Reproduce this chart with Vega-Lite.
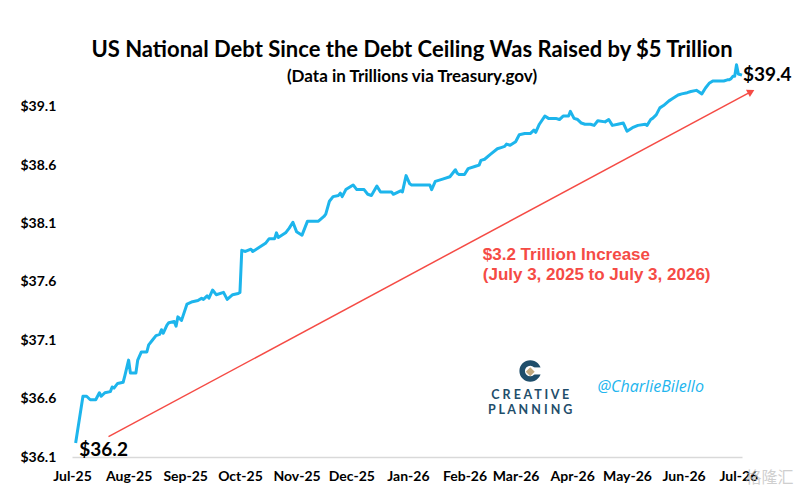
{
  "$schema": "https://vega.github.io/schema/vega-lite/v6.json",
  "width": 670,
  "height": 397,
  "autosize": {"type": "none"},
  "padding": {"left": 72, "top": 60, "right": 56, "bottom": 42},
  "background": "white",
  "config": {"view": {"stroke": null}, "font": "Lato"},
  "title": {
    "text": "US National Debt Since the Debt Ceiling Was Raised by $5 Trillion",
    "subtitle": "(Data in Trillions via Treasury.gov)",
    "anchor": "middle",
    "font": "Lato",
    "fontSize": 22,
    "fontWeight": "bold",
    "color": "black",
    "subtitleFont": "Lato",
    "subtitleFontSize": 17,
    "subtitleFontWeight": "bold",
    "subtitleColor": "black",
    "subtitlePadding": 7,
    "offset": -26,
    "dx": 5
  },
  "encoding": {
    "x": {
      "field": "date",
      "type": "temporal",
      "title": null,
      "scale": {
        "type": "utc",
        "domain": [
          {"year": 2025, "month": 7, "date": 1, "utc": true},
          {"year": 2026, "month": 7, "date": 3, "utc": true}
        ]
      },
      "axis": {
        "values": [
          {"year": 2025, "month": 7, "date": 1, "utc": true},
          {"year": 2025, "month": 8, "date": 1, "utc": true},
          {"year": 2025, "month": 9, "date": 1, "utc": true},
          {"year": 2025, "month": 10, "date": 1, "utc": true},
          {"year": 2025, "month": 11, "date": 1, "utc": true},
          {"year": 2025, "month": 12, "date": 1, "utc": true},
          {"year": 2026, "month": 1, "date": 1, "utc": true},
          {"year": 2026, "month": 2, "date": 1, "utc": true},
          {"year": 2026, "month": 3, "date": 1, "utc": true},
          {"year": 2026, "month": 4, "date": 1, "utc": true},
          {"year": 2026, "month": 5, "date": 1, "utc": true},
          {"year": 2026, "month": 6, "date": 1, "utc": true},
          {"year": 2026, "month": 7, "date": 1, "utc": true}
        ],
        "labelExpr": "utcFormat(datum.value, '%b-%y')",
        "labelFlush": false,
        "labelOverlap": false,
        "grid": false,
        "ticks": false,
        "domainColor": "#d9d9d9",
        "domainWidth": 1.5,
        "labelFont": "Lato",
        "labelFontSize": 14,
        "labelFontWeight": "bold",
        "labelColor": "black",
        "labelPadding": 12
      }
    },
    "y": {
      "field": "value",
      "type": "quantitative",
      "title": null,
      "scale": {"domain": [36.1, 39.5], "nice": false, "zero": false},
      "axis": {
        "values": [36.1, 36.6, 37.1, 37.6, 38.1, 38.6, 39.1],
        "labelExpr": "'$' + format(datum.value, '.1f')",
        "grid": false,
        "ticks": false,
        "domain": false,
        "labelAlign": "left",
        "labelPadding": 52,
        "labelFont": "Lato",
        "labelFontSize": 14,
        "labelFontWeight": "bold",
        "labelColor": "black"
      }
    }
  },
  "layer": [
    {
      "data": {"values": [
        {"date": "2025-07-03", "value": 36.22},
        {"date": "2025-07-07", "value": 36.62},
        {"date": "2025-07-09", "value": 36.62},
        {"date": "2025-07-11", "value": 36.59},
        {"date": "2025-07-14", "value": 36.59},
        {"date": "2025-07-16", "value": 36.65},
        {"date": "2025-07-17", "value": 36.62},
        {"date": "2025-07-19", "value": 36.65},
        {"date": "2025-07-22", "value": 36.66},
        {"date": "2025-07-23", "value": 36.70},
        {"date": "2025-07-24", "value": 36.69},
        {"date": "2025-07-26", "value": 36.73},
        {"date": "2025-07-29", "value": 36.74},
        {"date": "2025-07-30", "value": 36.80},
        {"date": "2025-08-01", "value": 36.93},
        {"date": "2025-08-02", "value": 36.82},
        {"date": "2025-08-05", "value": 36.82},
        {"date": "2025-08-06", "value": 36.93},
        {"date": "2025-08-08", "value": 37.00},
        {"date": "2025-08-11", "value": 37.00},
        {"date": "2025-08-12", "value": 37.06},
        {"date": "2025-08-14", "value": 37.10},
        {"date": "2025-08-16", "value": 37.14},
        {"date": "2025-08-18", "value": 37.15},
        {"date": "2025-08-19", "value": 37.19},
        {"date": "2025-08-20", "value": 37.16},
        {"date": "2025-08-22", "value": 37.23},
        {"date": "2025-08-23", "value": 37.25},
        {"date": "2025-08-26", "value": 37.26},
        {"date": "2025-08-27", "value": 37.22},
        {"date": "2025-08-28", "value": 37.30},
        {"date": "2025-08-30", "value": 37.27},
        {"date": "2025-09-02", "value": 37.41},
        {"date": "2025-09-05", "value": 37.43},
        {"date": "2025-09-08", "value": 37.44},
        {"date": "2025-09-10", "value": 37.46},
        {"date": "2025-09-11", "value": 37.45},
        {"date": "2025-09-13", "value": 37.48},
        {"date": "2025-09-14", "value": 37.46},
        {"date": "2025-09-16", "value": 37.53},
        {"date": "2025-09-18", "value": 37.49},
        {"date": "2025-09-22", "value": 37.51},
        {"date": "2025-09-24", "value": 37.45},
        {"date": "2025-09-27", "value": 37.49},
        {"date": "2025-09-30", "value": 37.50},
        {"date": "2025-10-01", "value": 37.51},
        {"date": "2025-10-02", "value": 37.87},
        {"date": "2025-10-04", "value": 37.86},
        {"date": "2025-10-07", "value": 37.88},
        {"date": "2025-10-08", "value": 37.86},
        {"date": "2025-10-11", "value": 37.89},
        {"date": "2025-10-15", "value": 37.93},
        {"date": "2025-10-17", "value": 37.97},
        {"date": "2025-10-20", "value": 37.97},
        {"date": "2025-10-21", "value": 38.02},
        {"date": "2025-10-22", "value": 37.98},
        {"date": "2025-10-26", "value": 38.02},
        {"date": "2025-10-28", "value": 38.06},
        {"date": "2025-10-30", "value": 38.11},
        {"date": "2025-11-01", "value": 38.03},
        {"date": "2025-11-04", "value": 38.00},
        {"date": "2025-11-07", "value": 38.12},
        {"date": "2025-11-10", "value": 38.12},
        {"date": "2025-11-13", "value": 38.12},
        {"date": "2025-11-16", "value": 38.16},
        {"date": "2025-11-17", "value": 38.18},
        {"date": "2025-11-19", "value": 38.29},
        {"date": "2025-11-21", "value": 38.33},
        {"date": "2025-11-24", "value": 38.34},
        {"date": "2025-11-25", "value": 38.36},
        {"date": "2025-11-26", "value": 38.33},
        {"date": "2025-11-28", "value": 38.39},
        {"date": "2025-12-02", "value": 38.43},
        {"date": "2025-12-04", "value": 38.39},
        {"date": "2025-12-08", "value": 38.39},
        {"date": "2025-12-10", "value": 38.35},
        {"date": "2025-12-12", "value": 38.34},
        {"date": "2025-12-15", "value": 38.42},
        {"date": "2025-12-17", "value": 38.37},
        {"date": "2025-12-20", "value": 38.37},
        {"date": "2025-12-23", "value": 38.37},
        {"date": "2025-12-24", "value": 38.35},
        {"date": "2025-12-28", "value": 38.38},
        {"date": "2025-12-29", "value": 38.37},
        {"date": "2025-12-31", "value": 38.51},
        {"date": "2026-01-02", "value": 38.44},
        {"date": "2026-01-03", "value": 38.43},
        {"date": "2026-01-08", "value": 38.43},
        {"date": "2026-01-13", "value": 38.43},
        {"date": "2026-01-14", "value": 38.39},
        {"date": "2026-01-16", "value": 38.46},
        {"date": "2026-01-20", "value": 38.48},
        {"date": "2026-01-24", "value": 38.50},
        {"date": "2026-01-27", "value": 38.56},
        {"date": "2026-01-28", "value": 38.53},
        {"date": "2026-01-29", "value": 38.52},
        {"date": "2026-02-01", "value": 38.52},
        {"date": "2026-02-03", "value": 38.57},
        {"date": "2026-02-07", "value": 38.59},
        {"date": "2026-02-09", "value": 38.60},
        {"date": "2026-02-10", "value": 38.64},
        {"date": "2026-02-12", "value": 38.65},
        {"date": "2026-02-15", "value": 38.69},
        {"date": "2026-02-19", "value": 38.74},
        {"date": "2026-02-21", "value": 38.75},
        {"date": "2026-02-23", "value": 38.76},
        {"date": "2026-02-24", "value": 38.78},
        {"date": "2026-02-26", "value": 38.77},
        {"date": "2026-03-01", "value": 38.80},
        {"date": "2026-03-03", "value": 38.86},
        {"date": "2026-03-06", "value": 38.87},
        {"date": "2026-03-09", "value": 38.87},
        {"date": "2026-03-11", "value": 38.90},
        {"date": "2026-03-12", "value": 38.88},
        {"date": "2026-03-14", "value": 38.95},
        {"date": "2026-03-17", "value": 39.02},
        {"date": "2026-03-19", "value": 39.00},
        {"date": "2026-03-23", "value": 39.00},
        {"date": "2026-03-25", "value": 38.99},
        {"date": "2026-03-27", "value": 39.02},
        {"date": "2026-03-30", "value": 39.02},
        {"date": "2026-03-31", "value": 39.06},
        {"date": "2026-04-02", "value": 39.00},
        {"date": "2026-04-04", "value": 38.99},
        {"date": "2026-04-06", "value": 38.96},
        {"date": "2026-04-08", "value": 38.95},
        {"date": "2026-04-11", "value": 38.95},
        {"date": "2026-04-13", "value": 38.94},
        {"date": "2026-04-15", "value": 38.98},
        {"date": "2026-04-19", "value": 38.97},
        {"date": "2026-04-21", "value": 38.99},
        {"date": "2026-04-23", "value": 38.94},
        {"date": "2026-04-26", "value": 38.95},
        {"date": "2026-04-29", "value": 38.96},
        {"date": "2026-05-01", "value": 38.89},
        {"date": "2026-05-04", "value": 38.92},
        {"date": "2026-05-07", "value": 38.94},
        {"date": "2026-05-11", "value": 38.95},
        {"date": "2026-05-12", "value": 38.94},
        {"date": "2026-05-14", "value": 38.99},
        {"date": "2026-05-15", "value": 39.00},
        {"date": "2026-05-17", "value": 39.03},
        {"date": "2026-05-19", "value": 39.09},
        {"date": "2026-05-21", "value": 39.11},
        {"date": "2026-05-24", "value": 39.15},
        {"date": "2026-05-26", "value": 39.17},
        {"date": "2026-05-29", "value": 39.20},
        {"date": "2026-05-31", "value": 39.21},
        {"date": "2026-06-03", "value": 39.22},
        {"date": "2026-06-05", "value": 39.23},
        {"date": "2026-06-08", "value": 39.24},
        {"date": "2026-06-11", "value": 39.21},
        {"date": "2026-06-13", "value": 39.26},
        {"date": "2026-06-15", "value": 39.30},
        {"date": "2026-06-17", "value": 39.32},
        {"date": "2026-06-20", "value": 39.32},
        {"date": "2026-06-23", "value": 39.32},
        {"date": "2026-06-25", "value": 39.33},
        {"date": "2026-06-26", "value": 39.33},
        {"date": "2026-06-27", "value": 39.34},
        {"date": "2026-06-28", "value": 39.36},
        {"date": "2026-06-29", "value": 39.36},
        {"date": "2026-06-30", "value": 39.46},
        {"date": "2026-07-01", "value": 39.38},
        {"date": "2026-07-03", "value": 39.37}
      ]},
      "mark": {"type": "line", "color": "#1db5ec", "strokeWidth": 3, "strokeJoin": "round"}
    },
    {
      "data": {"values": [
        {"date": "2025-07-21", "value": 36.274, "date2": "2026-07-07", "value2": 39.221}
      ]},
      "mark": {"type": "rule", "color": "#f54b45", "strokeWidth": 1.5},
      "encoding": {
        "x2": {"field": "date2"},
        "y2": {"field": "value2"}
      }
    },
    {
      "data": {"values": [{"date": "2026-07-08", "value": 39.229}]},
      "mark": {"type": "point", "shape": "triangle-right", "filled": true, "color": "#f54b45", "size": 70, "angle": 332, "opacity": 1}
    },
    {
      "data": {"values": [
        {"date": "2025-07-05", "value": 36.16, "label": "$36.2"}
      ]},
      "mark": {"type": "text", "align": "left", "baseline": "middle", "font": "Lato", "fontSize": 19, "fontWeight": "bold", "color": "black"},
      "encoding": {"text": {"field": "label"}}
    },
    {
      "data": {"values": [
        {"date": "2026-07-03", "value": 39.374, "label": "$39.4"}
      ]},
      "mark": {"type": "text", "align": "left", "baseline": "middle", "dx": 1, "font": "Lato", "fontSize": 19, "fontWeight": "bold", "color": "black"},
      "encoding": {"text": {"field": "label"}}
    },
    {
      "data": {"values": [
        {"date": "2026-02-11", "value": 37.831, "label": "$3.2 Trillion Increase"},
        {"date": "2026-02-11", "value": 37.66, "label": "(July 3, 2025 to July 3, 2026)"}
      ]},
      "mark": {"type": "text", "align": "left", "baseline": "middle", "font": "Liberation Sans", "fontSize": 17, "fontWeight": "bold", "color": "#f54b45"},
      "encoding": {"text": {"field": "label"}}
    },
    {
      "data": {"values": [{"date": "2026-03-09", "value": 36.837}]},
      "mark": {"type": "point", "shape": "circle", "filled": false, "stroke": "#1f4e6b", "strokeWidth": 5.5, "size": 260, "opacity": 1}
    },
    {
      "data": {"values": [{"date": "2026-03-13", "value": 36.837}]},
      "mark": {"type": "point", "shape": "square", "filled": true, "color": "white", "size": 50, "opacity": 1}
    },
    {
      "data": {"values": [{"date": "2026-03-09", "value": 36.83}]},
      "mark": {"type": "point", "shape": "diamond", "filled": true, "color": "#c2a97e", "size": 80, "opacity": 1}
    },
    {
      "data": {"values": [
        {"date": "2026-03-09", "value": 36.631, "label": "C R E A T I V E"},
        {"date": "2026-03-09", "value": 36.503, "label": "P L A N N I N G"}
      ]},
      "mark": {"type": "text", "align": "center", "baseline": "middle", "font": "Lato", "fontSize": 12.5, "fontWeight": "bold", "color": "#1f4e6b"},
      "encoding": {"text": {"field": "label"}}
    },
    {
      "data": {"values": [
        {"date": "2026-05-14", "value": 36.703, "label": "@CharlieBilello"}
      ]},
      "mark": {"type": "text", "align": "center", "baseline": "middle", "font": "Open Sans", "fontSize": 16, "fontStyle": "italic", "color": "#22b5ee"},
      "encoding": {"text": {"field": "label"}}
    },
    {
      "data": {"values": [
        {"date": "2026-07-18", "value": 35.92, "label": "格隆汇"}
      ]},
      "mark": {"type": "text", "align": "center", "baseline": "middle", "font": "Noto Sans CJK SC", "fontSize": 16, "color": "#bbbbbb", "opacity": 0.7},
      "encoding": {"text": {"field": "label"}}
    }
  ]
}
